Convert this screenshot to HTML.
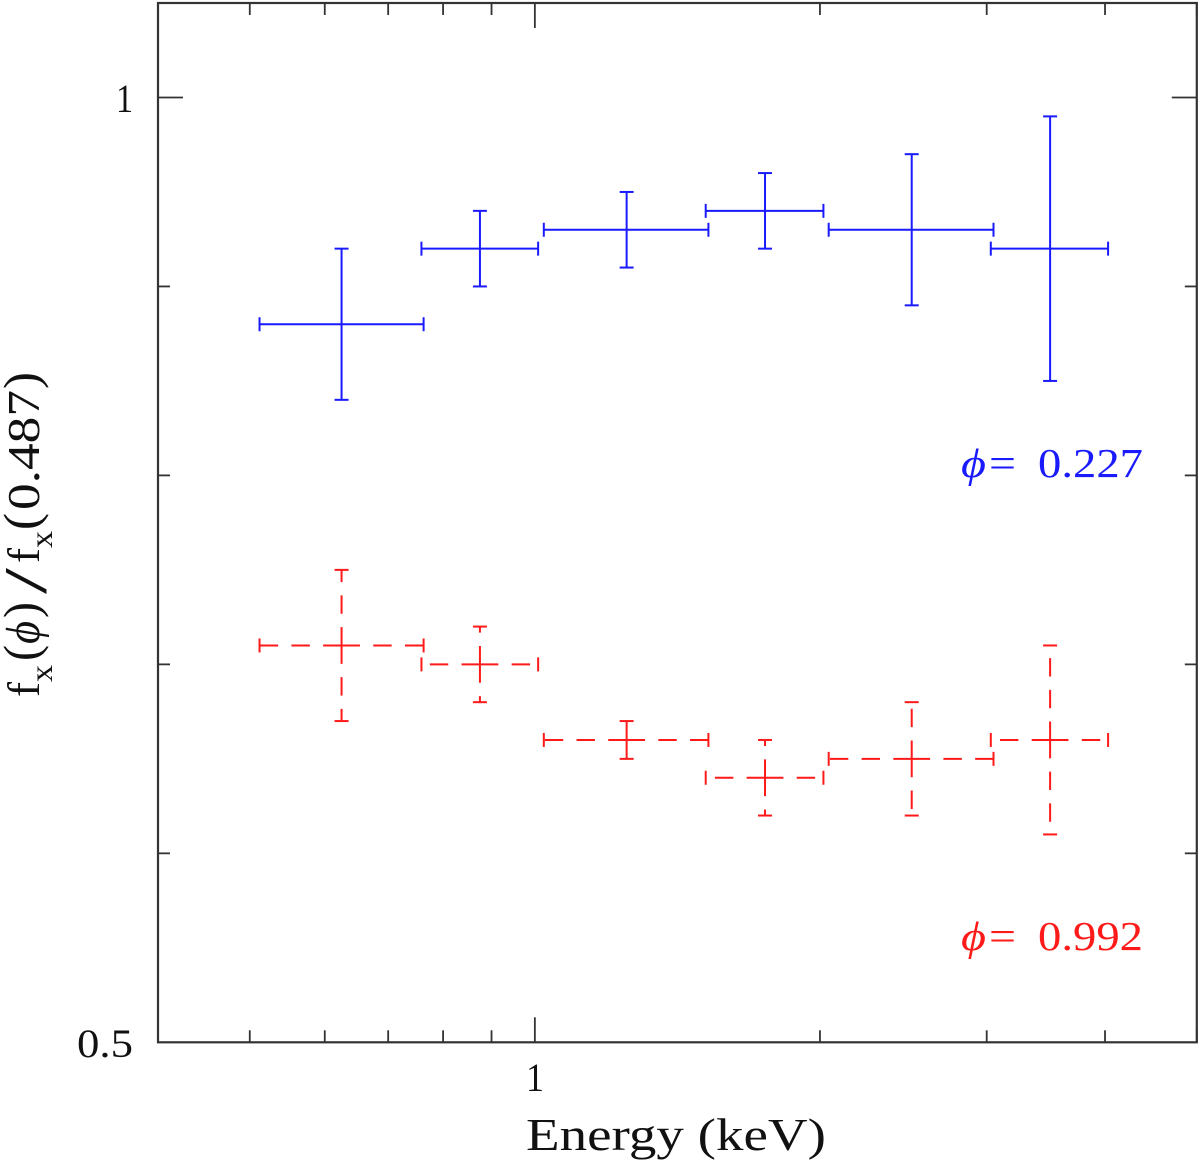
<!DOCTYPE html>
<html>
<head>
<meta charset="utf-8">
<title>Flux ratio vs energy</title>
<style>
html,body{margin:0;padding:0;background:#fff;}
svg{display:block;filter:blur(0.35px);}
text{font-family:"Liberation Serif","DejaVu Serif",serif;}
</style>
</head>
<body>
<svg id="chart" xmlns="http://www.w3.org/2000/svg" width="1200" height="1163" viewBox="0 0 1200 1163">
  <rect width="1200" height="1163" fill="#ffffff"/>
  <g id="ticks"></g>
  <g id="marks"></g>
  <rect id="frame" fill="none" stroke="#333" stroke-width="2.2"/>

  <text x="116" y="112" font-size="40" fill="#111" textLength="17" lengthAdjust="spacingAndGlyphs">1</text>
  <text x="77" y="1057" font-size="40" fill="#111" textLength="56" lengthAdjust="spacingAndGlyphs">0.5</text>
  <text x="526" y="1091" font-size="40" fill="#111" textLength="18" lengthAdjust="spacingAndGlyphs">1</text>
  <text x="526" y="1150" font-size="45" fill="#111" textLength="300" lengthAdjust="spacingAndGlyphs">Energy (keV)</text>

  <g transform="translate(39,700) rotate(-90)" fill="#111" font-size="45">
    <text x="3" y="0" textLength="15" lengthAdjust="spacingAndGlyphs">f</text>
    <text x="18" y="13" font-size="32" textLength="17" lengthAdjust="spacingAndGlyphs">x</text>
    <text x="39" y="-1" font-size="50" textLength="16" lengthAdjust="spacingAndGlyphs">(</text>
    <text x="56" y="0" font-size="48" font-style="italic" textLength="23" lengthAdjust="spacingAndGlyphs">ϕ</text>
    <text x="82" y="-1" font-size="50" textLength="16" lengthAdjust="spacingAndGlyphs">)</text>
    <text x="106" y="7" font-size="60" textLength="26" lengthAdjust="spacingAndGlyphs">/</text>
    <text x="137" y="0" textLength="15" lengthAdjust="spacingAndGlyphs">f</text>
    <text x="152" y="13" font-size="32" textLength="17" lengthAdjust="spacingAndGlyphs">x</text>
    <text x="170" y="-1" font-size="50" textLength="17" lengthAdjust="spacingAndGlyphs">(</text>
    <text x="190" y="0" textLength="120" lengthAdjust="spacingAndGlyphs">0.487</text>
    <text x="311" y="-1" font-size="50" textLength="17" lengthAdjust="spacingAndGlyphs">)</text>
  </g>

  <g fill="#1a1aff" font-size="41">
    <text x="961" y="477" font-style="italic" textLength="25" lengthAdjust="spacingAndGlyphs">ϕ</text>
    <text x="989" y="477" textLength="27" lengthAdjust="spacingAndGlyphs">=</text>
    <text x="1038" y="477" textLength="105" lengthAdjust="spacingAndGlyphs">0.227</text>
  </g>
  <g fill="#ff1a1a" font-size="41">
    <text x="961" y="950" font-style="italic" textLength="25" lengthAdjust="spacingAndGlyphs">ϕ</text>
    <text x="989" y="950" textLength="27" lengthAdjust="spacingAndGlyphs">=</text>
    <text x="1038" y="950" textLength="105" lengthAdjust="spacingAndGlyphs">0.992</text>
  </g>
</svg>
<script>
var energy = [0.625, 0.875, 1.25, 1.75, 2.5, 3.5];
var energyLow = [0.512, 0.759, 1.022, 1.515, 2.043, 3.03];
var energyHigh = [0.763, 1.008, 1.525, 2.017, 3.05, 4.03];
var blueFlux = [0.88, 0.92, 0.93, 0.94, 0.93, 0.92];
var blueLow = [0.84, 0.90, 0.91, 0.92, 0.89, 0.85];
var blueHigh = [0.92, 0.94, 0.95, 0.96, 0.97, 0.99];
var redFlux = [0.71, 0.70, 0.66, 0.64, 0.65, 0.66];
var redLow = [0.67, 0.68, 0.65, 0.62, 0.62, 0.61];
var redHigh = [0.75, 0.72, 0.67, 0.66, 0.68, 0.71];
var xMinorTicks = [0.4, 0.5, 0.6, 0.7, 0.8, 0.9, 2, 3, 4, 5];
var xMajorTicks = [1];
var yMinorTicks = [0.6, 0.7, 0.8, 0.9];
var yMajorTicks = [1];
var xDomain = [0.4, 5];
var yDomain = [0.5, 1.05];

var NS = 'http://www.w3.org/2000/svg';
var plotLeft = 158, plotRight = 1196.8, plotTop = 3, plotBottom = 1042.3;

function xPos(e) {
  var a = Math.log10(xDomain[0]), b = Math.log10(xDomain[1]);
  return plotLeft + (Math.log10(e) - a) / (b - a) * (plotRight - plotLeft);
}
function yPos(v) {
  return plotBottom - (v - yDomain[0]) / (yDomain[1] - yDomain[0]) * (plotBottom - plotTop);
}
function line(parent, x1, y1, x2, y2, color, width, dash) {
  var el = document.createElementNS(NS, 'line');
  el.setAttribute('x1', x1);
  el.setAttribute('y1', y1);
  el.setAttribute('x2', x2);
  el.setAttribute('y2', y2);
  el.setAttribute('stroke', color);
  el.setAttribute('stroke-width', width);
  if (dash) el.setAttribute('stroke-dasharray', dash);
  parent.appendChild(el);
  return el;
}

var frame = document.getElementById('frame');
frame.setAttribute('x', plotLeft);
frame.setAttribute('y', plotTop);
frame.setAttribute('width', plotRight - plotLeft);
frame.setAttribute('height', plotBottom - plotTop);

var tickGroup = document.getElementById('ticks');
function xTick(v, len) {
  var x = xPos(v);
  var a = line(tickGroup, x, plotBottom, x, plotBottom - len, '#333', 1.8);
  
  
  var b = line(tickGroup, x, plotTop, x, plotTop + len, '#333', 1.8);
  
  
}
function yTick(v, len) {
  var y = yPos(v);
  var a = line(tickGroup, plotLeft, y, plotLeft + len, y, '#333', 1.8);
  
  
  var b = line(tickGroup, plotRight, y, plotRight - len, y, '#333', 1.8);
  
  
}
xMinorTicks.forEach(function (v) { xTick(v, 12); });
xMajorTicks.forEach(function (v) { xTick(v, 25); });
yMinorTicks.forEach(function (v) { yTick(v, 12); });
yMajorTicks.forEach(function (v) { yTick(v, 25); });

var markGroup = document.getElementById('marks');
function drawSeries(name, flux, low, high, color, dash) {
  for (var i = 0; i < energy.length; i++) {
    var g = document.createElementNS(NS, 'g');
    
    
    markGroup.appendChild(g);
    var cx = xPos(energy[i]), cy = yPos(flux[i]);
    var xl = xPos(energyLow[i]), xh = xPos(energyHigh[i]);
    var yl = yPos(low[i]), yh = yPos(high[i]);
    line(g, cx, cy, xl, cy, color, 2, dash);
    line(g, cx, cy, xh, cy, color, 2, dash);
    line(g, cx, cy, cx, yl, color, 2, dash);
    line(g, cx, cy, cx, yh, color, 2, dash);
    line(g, xl, cy - 7, xl, cy + 7, color, 2);
    line(g, xh, cy - 7, xh, cy + 7, color, 2);
    line(g, cx - 7, yl, cx + 7, yl, color, 2);
    line(g, cx - 7, yh, cx + 7, yh, color, 2);
  }
}
drawSeries('blue-series', blueFlux, blueLow, blueHigh, '#1a1aff', null);
drawSeries('red-series', redFlux, redLow, redHigh, '#ff1a1a', '18.4 13.3');
</script>
</body>
</html>
